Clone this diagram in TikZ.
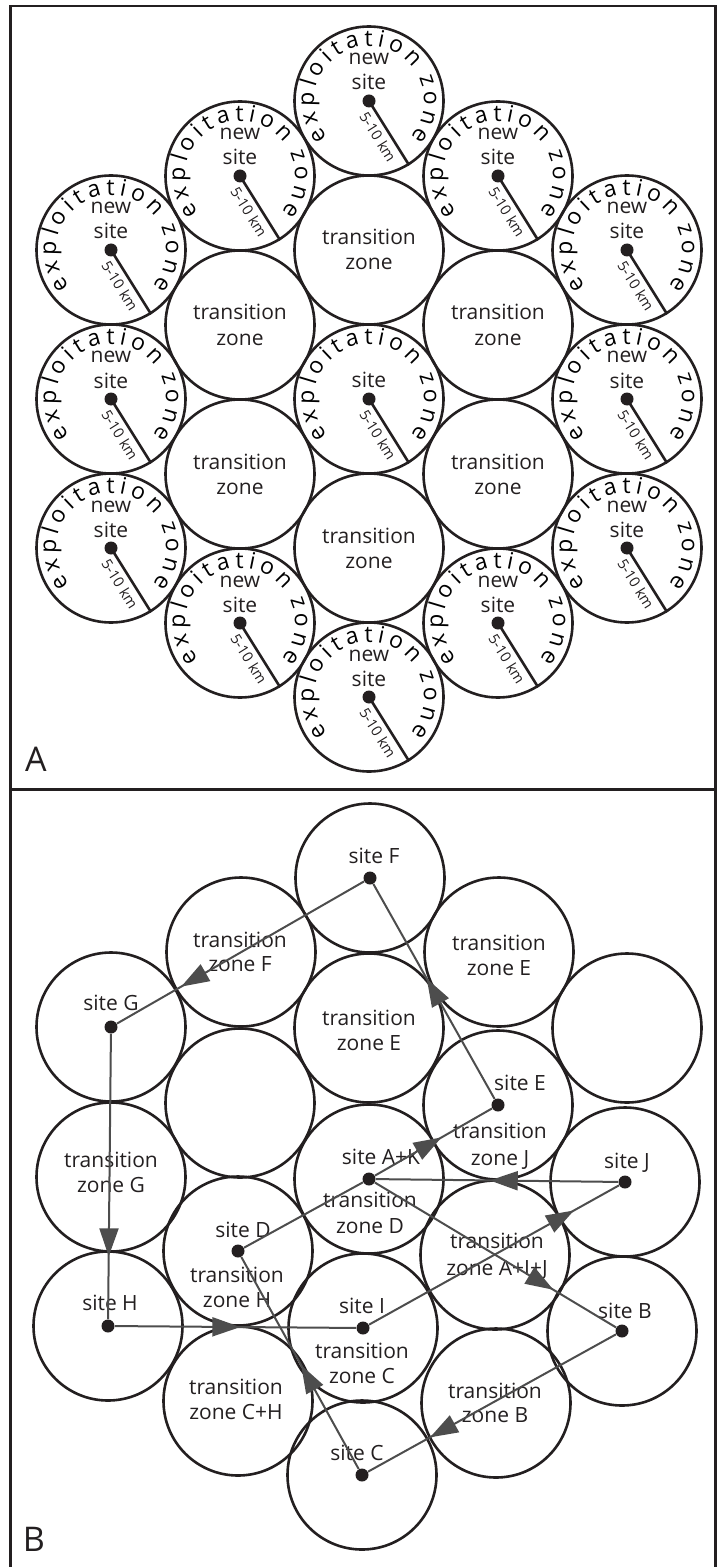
\documentclass[tikz,border=0pt]{standalone}
\usepackage{fontspec}
\setmainfont{Open Sans}
\usetikzlibrary{calc,decorations.text,decorations.markings,arrows.meta}
\definecolor{ink}{HTML}{231F20}
\definecolor{routegray}{HTML}{4D4D4D}
\newcommand\curvefont{\fontsize{11.5}{11.5}\selectfont}
\newcommand\explzone[3]{%
  \node[zone] (#1) at (#2,-#3) {};
  \node[sitedot] (#1dot) at (#1.center) {};
  \coordinate (#1edge) at (#1.-58);
  \draw[radline] (#1dot.center) -- (#1edge);
  \node[kmlabel] (#1km) at ($(#1.center)+(-76:37)$) {5-10 km};
  \path[decorate,decoration={text along path,text={|\curvefont|exploitation},text align={fit to path}}]
    ($(#1.center)+(221:55)$) arc[start angle=221,end angle=37,radius=55];
  \path[decorate,decoration={text along path,text={|\curvefont|zone},text align={fit to path}}]
    ($(#1.center)+(25:55)$) arc[start angle=25,end angle=-41,radius=55];
}
\newcommand\newsitelabel[1]{%
  \node[lbl] (#1new) at ($(#1.center)+(0,36)$) {new};
  \node[lbl] (#1site) at ($(#1.center)+(0,11)$) {site};
}
\newcommand\tzone[3]{%
  \node[zone] (#1) at (#2,-#3) {};
  \node[lbl] (#1a) at ($(#1.center)+(0,5)$) {transition};
  \node[lbl] (#1b) at ($(#1.center)+(0,-20)$) {zone};
}
\newcommand\bzone[3]{\node[zone] (#1) at (#2,-#3) {};}
\newcommand\bdot[1]{\node[sitedot] (#1dot) at (#1.center) {};}
\begin{document}
\begin{tikzpicture}[x=0.5pt,y=0.5pt,color=ink,
  zone/.style={circle,draw=ink,line width=1.3pt,minimum size=74.5pt,inner sep=0pt},
  lbl/.style={anchor=base,inner sep=0pt,font=\fontsize{10.5}{10.5}\selectfont},
  kmlabel/.style={inner sep=0pt,font=\fontsize{7.3}{7.3}\selectfont,rotate=-58},
  sitedot/.style={circle,fill=ink,inner sep=0pt,minimum size=6.5pt},
  radline/.style={draw=ink,line width=1.3pt},
  panel/.style={anchor=base,inner sep=0pt,font=\fontsize{17}{17}\selectfont},
  route/.style={draw=routegray,line width=1pt,postaction={decorate},
    decoration={markings,mark=at position #1 with {\arrow[routegray]{Triangle[length=14pt,width=9.5pt]}}}},
  plain/.style={draw=routegray,line width=1pt},
]
\useasboundingbox (0,0) rectangle (717,-1567);
% frame
\draw[line width=1.25pt] (10.5,-1575) -- (10.5,-6) -- (715.5,-6) -- (715.5,-1575);
\draw[line width=1.25pt] (10.5,-789.5) -- (715.5,-789.5);
% ---------- panel A ----------
\tzone{T1}{369}{250}
\tzone{T2}{240}{325}
\tzone{T3}{498}{325}
\tzone{T4}{240}{474}
\tzone{T5}{498}{474}
\tzone{T6}{369}{548}
\explzone{E0}{369}{399}
\node[lbl] (E0site) at ($(E0.center)+(0,12)$) {site};
\explzone{E1}{369}{101}\newsitelabel{E1}
\explzone{E2}{240}{176}\newsitelabel{E2}
\explzone{E3}{111}{250}\newsitelabel{E3}
\explzone{E4}{498}{176}\newsitelabel{E4}
\explzone{E5}{627}{250}\newsitelabel{E5}
\explzone{E6}{111}{399}\newsitelabel{E6}
\explzone{E7}{627}{399}\newsitelabel{E7}
\explzone{E8}{111}{548}\newsitelabel{E8}
\explzone{E9}{627}{548}\newsitelabel{E9}
\explzone{E10}{240}{623}\newsitelabel{E10}
\explzone{E11}{498}{623}\newsitelabel{E11}
\explzone{E12}{369}{697}\newsitelabel{E12}
\node[panel] (labelA) at (36,-771) {A};
% ---------- panel B ----------
\bzone{F}{370}{878}
\bzone{TZF}{241}{952}
\bzone{TZEu}{499}{952}
\bzone{G}{111}{1027}
\bzone{UR}{627}{1028}
\bzone{TZEc}{369}{1028}
\bzone{LE}{240}{1103}
\bzone{E}{498}{1105}
\bzone{TZG}{111}{1177}
\bzone{AK}{369}{1179}
\bzone{J}{625}{1182}
\bzone{D}{238}{1251}
\bzone{AIJ}{495}{1255}
\bzone{H}{108}{1326}
\bzone{I}{363}{1328}
\bzone{B}{622}{1331}
\bzone{CH}{238}{1401}
\bzone{TZB}{496}{1403}
\bzone{C}{362}{1475}
\bdot{F}\bdot{G}\bdot{E}\bdot{AK}\bdot{J}\bdot{D}\bdot{H}\bdot{I}\bdot{B}\bdot{C}
% labels
\node[lbl] (lF) at (374,-863) {site F};
\node[lbl] (lTZFa) at (240,-947) {transition};
\node[lbl] (lTZFb) at (240,-971) {zone F};
\node[lbl] (lTZEua) at (499,-950) {transition};
\node[lbl] (lTZEub) at (499,-975) {zone E};
\node[lbl] (lG) at (111,-1010) {site G};
\node[lbl] (lTZEca) at (369,-1025) {transition};
\node[lbl] (lTZEcb) at (369,-1050) {zone E};
\node[lbl] (lE) at (520,-1090) {site E};
\node[lbl] (lTZJa) at (500,-1138) {transition};
\node[lbl] (lTZJb) at (500,-1165) {zone J};
\node[lbl] (lTZGa) at (111,-1167) {transition};
\node[lbl] (lTZGb) at (111,-1192) {zone G};
\node[lbl] (lAK) at (381,-1164) {site A+K};
\node[lbl] (lTZDa) at (370,-1207) {transition};
\node[lbl] (lTZDb) at (370,-1233) {zone D};
\node[lbl] (lJ) at (627,-1168) {site J};
\node[lbl] (lD) at (243,-1237) {site D};
\node[lbl] (lTZHa) at (237,-1282) {transition};
\node[lbl] (lTZHb) at (237,-1307) {zone H};
\node[lbl] (lAIJa) at (497,-1248) {transition};
\node[lbl] (lAIJb) at (497,-1275) {zone A+I+J};
\node[lbl] (lH) at (110,-1310) {site H};
\node[lbl] (lI) at (362,-1313) {site I};
\node[lbl] (lTZCa) at (362,-1358) {transition};
\node[lbl] (lTZCb) at (362,-1383) {zone C};
\node[lbl] (lB) at (625,-1318) {site B};
\node[lbl] (lCHa) at (236,-1394) {transition};
\node[lbl] (lCHb) at (236,-1419) {zone C+H};
\node[lbl] (lTZBa) at (495,-1398) {transition};
\node[lbl] (lTZBb) at (495,-1422) {zone B};
\node[lbl] (lC) at (357,-1460) {site C};
% routes
\draw[route=0.74] (Fdot) -- (Gdot);
\draw[route=0.78] (Gdot) -- (Hdot);
\draw[route=0.52] (Hdot) -- (Idot);
\draw[route=0.82] (Idot) -- (Jdot);
\draw[route=0.53] (Jdot) -- (AKdot);
\draw[route=0.74] (AKdot) -- (Bdot);
\draw[route=0.75] (Bdot) -- (Cdot);
\draw[route=0.49] (Cdot) -- (Ddot);
\draw[plain] (Ddot) -- (AKdot);
\draw[route=0.57] (AKdot) -- (Edot);
\draw[route=0.56] (Edot) -- (Fdot);
\node[panel] (labelB) at (34,-1551) {B};
\end{tikzpicture}
\end{document}
